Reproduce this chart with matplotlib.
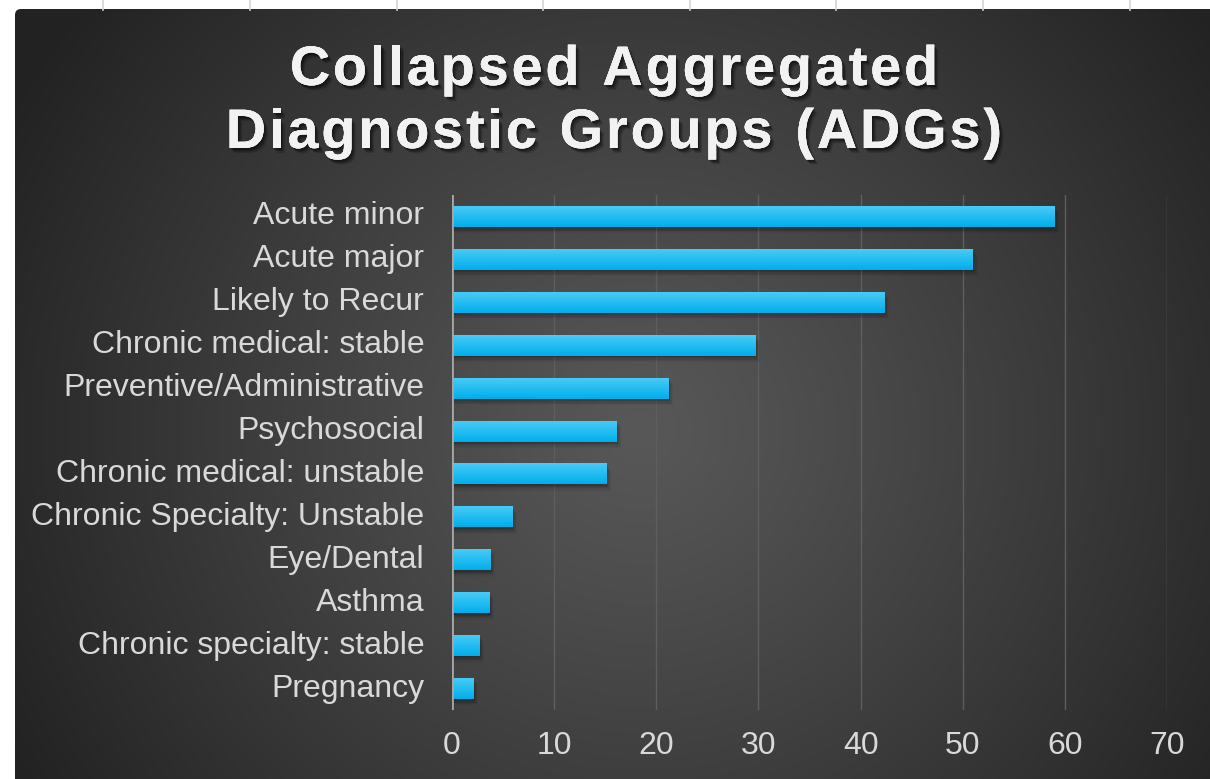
import numpy as np
import matplotlib
matplotlib.use("Agg")
import matplotlib.pyplot as plt
from matplotlib import patheffects as pe
from matplotlib.lines import Line2D
from matplotlib.patches import FancyBboxPatch
from matplotlib.transforms import ScaledTranslation

categories = ["Acute minor", "Acute major", "Likely to Recur", "Chronic medical: stable",
              "Preventive/Administrative", "Psychosocial", "Chronic medical: unstable",
              "Chronic Specialty: Unstable", "Eye/Dental", "Asthma",
              "Chronic specialty: stable", "Pregnancy"]
values = [59.0, 51.0, 42.3, 29.7, 21.2, 16.1, 15.1, 5.9, 3.8, 3.7, 2.7, 2.1]
xticks = [0, 10, 20, 30, 40, 50, 60, 70]
title_lines = ["Collapsed Aggregated", "Diagnostic Groups (ADGs)"]

W, H, DPI = 1210, 779, 100
fig = plt.figure(figsize=(W / DPI, H / DPI), dpi=DPI)
fig.patch.set_facecolor("white")

# spreadsheet grid lines in the top white strip
for xp in [103, 250, 397, 543, 690, 836, 983, 1130]:
    fig.add_artist(Line2D([xp / W, xp / W], [1, 1 - 10 / H], transform=fig.transFigure,
                          color="#d4d4d4", lw=1.2))

# dark radial-gradient panel
px0, py0 = 15, 9
bg = fig.add_axes([px0 / W, 0, (W - px0) / W, (H - py0) / H])
bg.set_axis_off()
bw, bh = W - px0, H - py0
yy, xx = np.mgrid[0:bh, 0:bw]
cx, cy = 640 - px0, 430 - py0
r = np.sqrt(((xx - cx) / 1.0) ** 2 + ((yy - cy) / 0.95) ** 2)
R = 720.0
t = np.clip(r / R, 0, 1) ** 1.1
v = (0x58 - (0x58 - 0x22) * t) / 255.0
img = np.dstack([v, v, v])
im = bg.imshow(img, extent=[0, bw, bh, 0], aspect="auto", interpolation="bilinear")
bg.set_xlim(0, bw)
bg.set_ylim(bh, 0)
clip = FancyBboxPatch((0, 0), bw + 20, bh + 20, boxstyle="round,pad=0,rounding_size=6",
                      transform=bg.transData, facecolor="none", edgecolor="none")
bg.add_patch(clip)
im.set_clip_path(clip)

# main plot
L, Rr, T, B = 452, 1167, 195, 710
ax = fig.add_axes([L / W, 1 - B / H, (Rr - L) / W, (B - T) / H])
ax.set_facecolor("none")
n = len(categories)
ypos = np.arange(n)

for xv in xticks[1:]:
    ax.axvline(xv, color="#5e5e5e", lw=1.0, zorder=1)

# soft shadows
vals = np.array(values)
for dy, ext, a in [(0.03, 0.05, 0.10), (0.06, 0.15, 0.09), (0.09, 0.25, 0.08),
                   (0.12, 0.35, 0.06), (0.15, 0.45, 0.04)]:
    ax.barh(ypos + dy, vals + ext, height=0.49, left=0,
            color="black", alpha=a, zorder=2, linewidth=0)

bars = ax.barh(ypos, values, height=0.49, color="#0bb5ef", zorder=3, linewidth=0)
grad = np.linspace(0, 1, 64)[:, None]
top_c = np.array([0x4c, 0xcc, 0xf6]) / 255.0
bot_c = np.array([0x00, 0xae, 0xec]) / 255.0
gimg = top_c[None, None, :] * (1 - grad[:, :, None]) + bot_c[None, None, :] * grad[:, :, None]
gimg = np.repeat(gimg, 2, axis=1)
for b in bars:
    x0, y0 = b.get_x(), b.get_y()
    w, h = b.get_width(), b.get_height()
    gi = ax.imshow(gimg, extent=[x0, x0 + w, y0 + h, y0], aspect="auto", zorder=4,
                   interpolation="bilinear")
    gi.set_clip_path(b)
ax.set_xlim(0, 70)
ax.set_ylim(n - 0.5, -0.5)

ax.axvline(0, color="#a6a6a6", lw=2.0, zorder=5)

for s in ax.spines.values():
    s.set_visible(False)
ax.set_yticks(ypos)
ax.set_yticklabels(categories)
ax.set_xticks(xticks)
ax.set_xticklabels([str(x) for x in xticks])
ax.tick_params(axis="both", length=0, colors="#d9d9d9", labelsize=23)
ax.tick_params(axis="y", pad=20)
ax.tick_params(axis="x", pad=15)
shift = ScaledTranslation(0, 2.5 / 72, fig.dpi_scale_trans)
for lab in ax.get_yticklabels():
    lab.set_fontfamily("Liberation Sans")
    lab.set_transform(lab.get_transform() + shift)
for lab in ax.get_xticklabels():
    lab.set_fontfamily("Liberation Sans")

# title with letter spacing
renderer = fig.canvas.get_renderer()
shadow = [pe.withSimplePatchShadow(offset=(3, -3.5), shadow_rgbFace="black", alpha=0.18),
          pe.withSimplePatchShadow(offset=(2, -2.5), shadow_rgbFace="black", alpha=0.25),
          pe.withSimplePatchShadow(offset=(1, -1.5), shadow_rgbFace="black", alpha=0.3),
          pe.Normal()]
specs = [(title_lines[0], 290, 938, 85), (title_lines[1], 226, 1002, 148)]
for line, xl, xr, base in specs:
    widths = []
    for ch in line:
        tt = fig.text(0, 0, ch if ch != " " else "n", fontsize=40, fontweight="bold",
                      family="Liberation Sans")
        bb = tt.get_window_extent(renderer)
        widths.append(bb.width if ch != " " else bb.width * 0.5)
        tt.remove()
    total = sum(widths)
    track = (xr - xl - total) / (len(line) - 1)
    x = xl
    for ch, wch in zip(line, widths):
        if ch != " ":
            fig.text(x / W, 1 - base / H, ch, fontsize=40, fontweight="bold",
                     family="Liberation Sans", color="#f2f2f2", ha="left",
                     va="baseline", path_effects=shadow)
        x += wch + track

fig.savefig("out.png", dpi=DPI, facecolor=fig.get_facecolor())
